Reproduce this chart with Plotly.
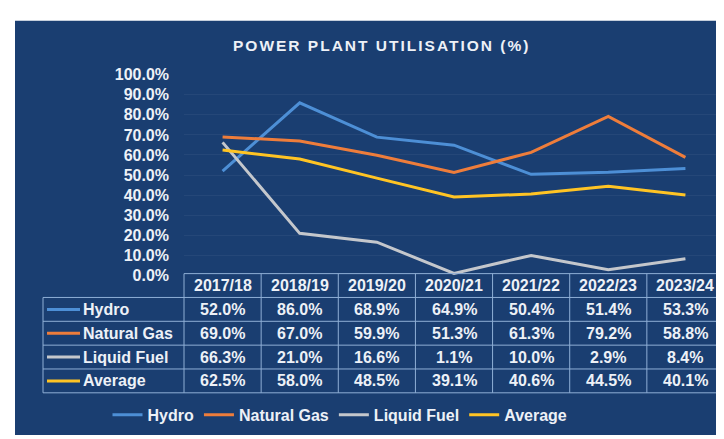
import plotly.graph_objects as go

# ---------------- data ----------------
years = ["2017/18", "2018/19", "2019/20", "2020/21", "2021/22", "2022/23", "2023/24"]
series_names = ["Hydro", "Natural Gas", "Liquid Fuel", "Average"]
hydro = [52.0, 86.0, 68.9, 64.9, 50.4, 51.4, 53.3]
natural_gas = [69.0, 67.0, 59.9, 51.3, 61.3, 79.2, 58.8]
liquid_fuel = [66.3, 21.0, 16.6, 1.1, 10.0, 2.9, 8.4]
average = [62.5, 58.0, 48.5, 39.1, 40.6, 44.5, 40.1]
y_ticks = [0, 10, 20, 30, 40, 50, 60, 70, 80, 90, 100]
title_text = "POWER PLANT UTILISATION (%)"

series_values = [hydro, natural_gas, liquid_fuel, average]
colors = ["#4D8FD6", "#EE7D3B", "#C4C7CC", "#FFC424"]

# ---------------- layout helpers ----------------
W, H = 724, 439
BG = "#1A3E71"
TXT = "#EDF1F7"
GRIDC = "#8FAFD6"
FONT = "Liberation Sans, Arial, sans-serif"


def fx(px):
    return px / W


def fy(py):
    return 1 - py / H


plot_left, plot_right = 176, 716
plot_top, plot_bottom = 61, 270
ncol = len(years)
col_w = (plot_right - plot_left) / ncol
label_left = 35
table_top = 268
row_h = 24.8
nrows = len(series_names) + 1

fig = go.Figure()
for name, vals, col in zip(series_names, series_values, colors):
    fig.add_trace(go.Scatter(
        x=years, y=vals, name=name, mode="lines",
        line=dict(color=col, width=3),
        hoverinfo="skip",
    ))

shapes = []
annotations = []

# blue panel
shapes.append(dict(type="rect", xref="paper", yref="paper", layer="below",
                   x0=fx(7), x1=fx(721), y0=fy(436), y1=fy(5),
                   fillcolor=BG, line=dict(width=0)))

# table borders
row_edges = [table_top + i * row_h for i in range(nrows + 1)]
col_edges = [plot_left + i * col_w for i in range(ncol + 1)]
line_style = dict(color=GRIDC, width=1)
for i, ry in enumerate(row_edges):
    x0 = plot_left if i == 0 else label_left
    shapes.append(dict(type="line", xref="paper", yref="paper",
                       x0=fx(x0), x1=fx(plot_right), y0=fy(ry), y1=fy(ry),
                       line=line_style))
shapes.append(dict(type="line", xref="paper", yref="paper",
                   x0=fx(label_left), x1=fx(label_left),
                   y0=fy(row_edges[1]), y1=fy(row_edges[-1]), line=line_style))
for cx in col_edges:
    shapes.append(dict(type="line", xref="paper", yref="paper",
                       x0=fx(cx), x1=fx(cx),
                       y0=fy(row_edges[0]), y1=fy(row_edges[-1]), line=line_style))

cell_font = dict(family=FONT, size=16, color=TXT, weight="bold")

# header
for j, yr in enumerate(years):
    cx = plot_left + (j + 0.5) * col_w
    cy = table_top + 0.5 * row_h
    annotations.append(dict(text=yr, x=fx(cx), y=fy(cy), xref="paper", yref="paper",
                            showarrow=False, xanchor="center", yanchor="middle",
                            font=cell_font))

# rows
for i, (name, vals, col) in enumerate(zip(series_names, series_values, colors)):
    cy = table_top + (i + 1.5) * row_h
    shapes.append(dict(type="line", xref="paper", yref="paper",
                       x0=fx(39), x1=fx(72), y0=fy(cy), y1=fy(cy),
                       line=dict(color=col, width=3)))
    annotations.append(dict(text=name, x=fx(73), y=fy(cy), xref="paper", yref="paper",
                            showarrow=False, xanchor="left", yanchor="middle",
                            font=cell_font))
    for j, v in enumerate(vals):
        cx = plot_left + (j + 0.5) * col_w
        annotations.append(dict(text=f"{v:.1f}%", x=fx(cx), y=fy(cy),
                                xref="paper", yref="paper",
                                showarrow=False, xanchor="center", yanchor="middle",
                                font=cell_font))

# title (letter-spaced)
annotations.append(dict(text=f'<span style="letter-spacing:2px">{title_text}</span>',
                        x=fx(373), y=fy(31), xref="paper", yref="paper",
                        showarrow=False, xanchor="center", yanchor="middle",
                        font=dict(family=FONT, size=15.5, color=TXT, weight="bold")))

fig.update_layout(
    width=W, height=H,
    margin=dict(l=0, r=0, t=0, b=0),
    paper_bgcolor="white",
    plot_bgcolor="rgba(0,0,0,0)",
    shapes=shapes,
    annotations=annotations,
    showlegend=True,
    legend=dict(orientation="h", x=fx(332), xanchor="center", y=fy(415), yanchor="middle",
                bgcolor="rgba(0,0,0,0)",
                font=dict(family=FONT, size=16, color=TXT, weight="bold"),
                itemwidth=30),
    xaxis=dict(domain=[fx(plot_left), fx(plot_right)], type="category",
               range=[-0.5, ncol - 0.5], showticklabels=False, showgrid=False,
               zeroline=False, showline=False, fixedrange=True),
    yaxis=dict(domain=[fy(plot_bottom), fy(plot_top)], range=[0, 100],
               tickvals=y_ticks, ticktext=[f"{t:.1f}%" for t in y_ticks],
               tickfont=dict(family=FONT, size=16, color=TXT, weight="bold"),
               showgrid=True, gridcolor="rgba(255,255,255,0.05)", gridwidth=1,
               zeroline=False, showline=False, ticks="", ticklabelstandoff=14,
               fixedrange=True),
)

fig.write_html("out.html")
